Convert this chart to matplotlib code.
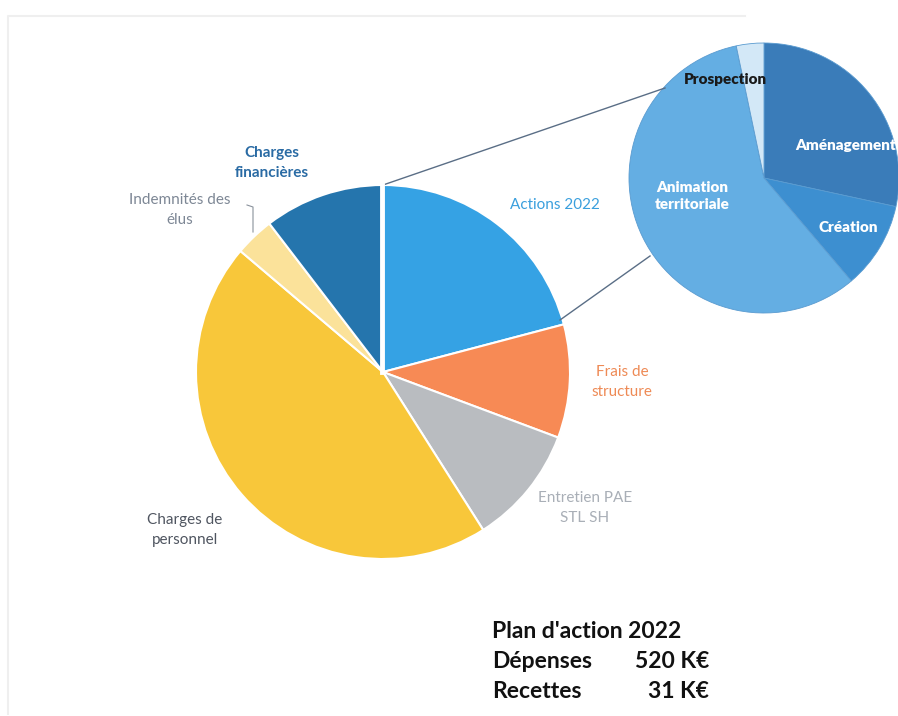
import matplotlib

matplotlib.use("Agg")
import matplotlib.pyplot as plt

# Main pie, clockwise from 12 o'clock (share of 520 K€ spending, in %)
MAIN_LABELS = ["Actions 2022", "Frais de\nstructure", "Entretien PAE\nSTL SH",
               "Charges de\npersonnel", "Indemnités des\nélus", "Charges\nfinancières"]
MAIN_VALUES = [20.9, 9.8, 10.3, 45.2, 3.4, 10.4]
MAIN_COLORS = ["#35A2E4", "#F78A55", "#B9BCC0", "#F8C73A", "#FBE29A", "#2575AD"]
MAIN_TEXT_COLORS = ["#3A9FDD", "#EE8A55", "#A9AFB7", "#4F5560", "#7D8795", "#2A6BA4"]

# Breakdown of "Actions 2022", clockwise from 12 o'clock
SUB_LABELS = ["Aménagement", "Création", "Animation\nterritoriale", "Prospection"]
SUB_VALUES = [28.4, 10.4, 57.9, 3.3]
SUB_COLORS = ["#3A7CB9", "#3D8FD0", "#64AEE3", "#D3E8F7"]

SUMMARY_ROWS = [("Dépenses", "520 K€"), ("Recettes", "31 K€")]

W, H = 898, 716
fig = plt.figure(figsize=(W / 100, H / 100), dpi=100)
ax = fig.add_axes([0, 0, 1, 1])

plt.rcParams["font.family"] = ["Lato", "DejaVu Sans"]

# faint scanned-page border
ax.plot([8, 8, 745], [2, H - 16, H - 16], color="#EFEFEF", lw=1.5, zorder=0)

# main pie
c_main, r_main = (383, H - 372), 187
ax.pie(MAIN_VALUES, colors=MAIN_COLORS, startangle=90, counterclock=False,
       center=c_main, radius=r_main, frame=True,
       wedgeprops=dict(edgecolor="white", linewidth=1.5))
# wider white gap between Actions 2022 and Charges financières
ax.plot([c_main[0] - 1, c_main[0] - 1], [c_main[1], c_main[1] + r_main], color="white", lw=3.5, zorder=5)

# exploded sub-pie (cut by right edge)
c_sub, r_sub = (764, H - 178), 135
ax.pie(SUB_VALUES, colors=SUB_COLORS, startangle=90, counterclock=False,
       center=c_sub, radius=r_sub, frame=True,
       wedgeprops=dict(edgecolor="#5A9BD0", linewidth=0.6))

ax.set_xlim(0, W)
ax.set_ylim(0, H)
ax.set_aspect("equal")
ax.axis("off")

# connector lines
ax.plot([383, 665], [H - 185, H - 88], color="#5A6E86", lw=1)
ax.plot([560, 650], [H - 320, H - 256], color="#5A6E86", lw=1)

# main labels
main_pos = [(555, 205), (622, 382), (585, 508), (185, 530), (180, 210), (272, 163)]
for lab, (x, y), col in zip(MAIN_LABELS, main_pos, MAIN_TEXT_COLORS):
    bold = lab.startswith("Charges\nfin")
    ax.text(x, H - y, lab, ha="center", va="center", fontsize=11, color=col,
            linespacing=1.5, fontweight="bold" if bold else "normal")

# leader for Indemnités
ax.plot([247, 253, 253], [H - 205, H - 207, H - 232], color="#8A929C", lw=0.8)

# sub-pie labels
sub_pos = [(846, 145), (848, 227), (692, 196), (725, 80)]
for lab, (x, y) in zip(SUB_LABELS, sub_pos):
    col = "#1A1A1A" if lab == "Prospection" else "white"
    ax.text(x, H - y, lab, ha="center", va="center", fontsize=11, color=col,
            fontweight="heavy", linespacing=1.4, clip_on=True)

# summary text
ax.text(492, H - 632, "Plan d'action 2022", ha="left", va="center", fontsize=16.5,
        fontweight="bold", color="#111111")
for i, (name, val) in enumerate(SUMMARY_ROWS):
    y = H - 662 - 30 * i
    ax.text(492, y, name, ha="left", va="center", fontsize=16.5, fontweight="bold", color="#111111")
    ax.text(709, y, val, ha="right", va="center", fontsize=16.5, fontweight="bold", color="#111111")

fig.savefig("out.png", dpi=100)
